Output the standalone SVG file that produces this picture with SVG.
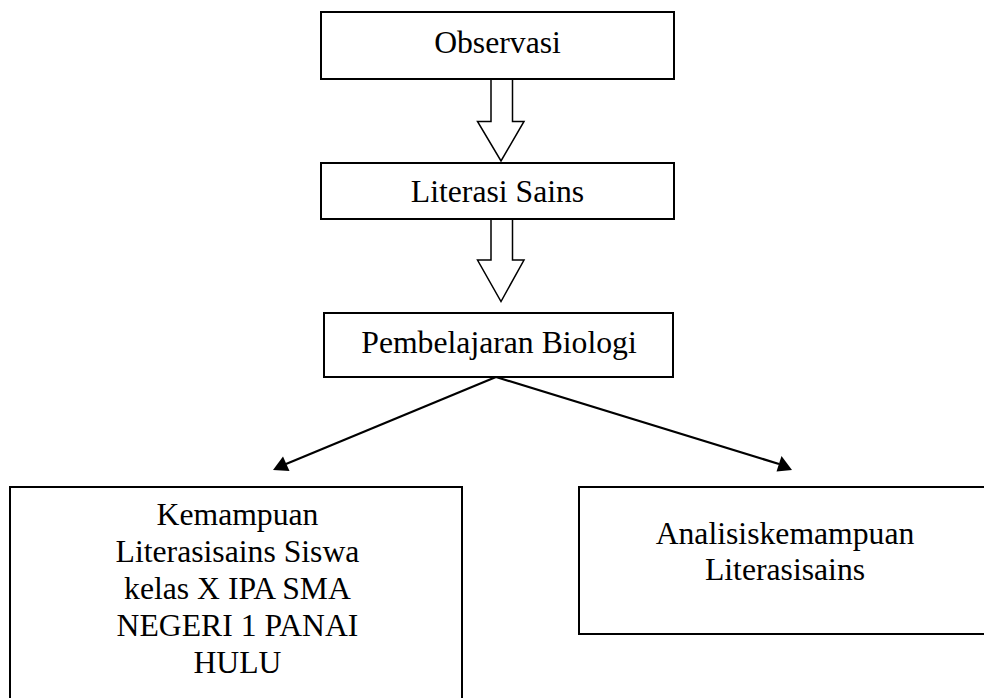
<svg xmlns="http://www.w3.org/2000/svg" width="984" height="698" viewBox="0 0 984 698">
<style>
.box{fill:#fff;stroke:#000;stroke-width:2}
.hol{fill:#fff;stroke:#000;stroke-width:1.5;stroke-linejoin:miter}
.ln{fill:none;stroke:#000;stroke-width:2.2}
text{font-family:"Liberation Serif","Times New Roman",serif;font-size:31.7px;fill:#000;text-anchor:middle}
</style>
<defs>
<marker id="ah" markerWidth="10" markerHeight="8" refX="9" refY="4" orient="auto" markerUnits="userSpaceOnUse" viewBox="0 0 10 8">
<path d="M0,0 L10,4 L0,8 z" fill="#000"/>
</marker>
</defs>
<rect width="984" height="698" fill="#fff"/>
<g id="connectors">
<path class="hol" d="M491,79 L512.5,79 L512.5,121.5 L524,121.5 L501,161 L477.5,121.5 L491,121.5 z"/>
<path class="hol" d="M491,219 L512.5,219 L512.5,260 L524,260 L501,301.5 L477.5,260 L491,260 z"/>
<line class="ln" x1="496" y1="377" x2="286" y2="464"/>
<path d="M273,470 L283,456.5 L289.5,471 z" fill="#000"/>
<line class="ln" x1="496" y1="377" x2="779" y2="464"/>
<path d="M792,470 L776.5,471.5 L781.5,456 z" fill="#000"/>
</g>
<g id="node-observasi">
<rect class="box" x="321" y="12" width="353" height="67"/>
<text x="497.5" y="53">Observasi</text>
</g>
<g id="node-literasi">
<rect class="box" x="321" y="163" width="353" height="56"/>
<text x="497.5" y="202">Literasi Sains</text>
</g>
<g id="node-pembelajaran">
<rect class="box" x="324" y="313" width="349" height="64"/>
<text x="499" y="353">Pembelajaran Biologi</text>
</g>
<g id="node-kemampuan">
<rect class="box" x="10" y="487" width="452" height="230"/>
<text x="237.5" y="525">Kemampuan</text>
<text x="237.5" y="562">Literasisains Siswa</text>
<text x="237.5" y="599">kelas X IPA SMA</text>
<text x="237.5" y="636">NEGERI 1 PANAI</text>
<text x="237.5" y="673">HULU</text>
</g>
<g id="node-analisis">
<rect class="box" x="579" y="487" width="420" height="147"/>
<text x="785" y="544">Analisiskemampuan</text>
<text x="785" y="580">Literasisains</text>
</g>
</svg>
